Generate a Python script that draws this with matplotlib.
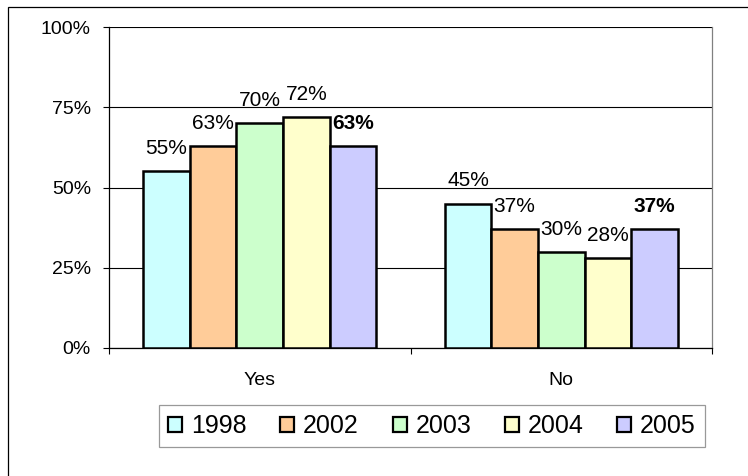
import numpy as np
import matplotlib
matplotlib.use("Agg")
import matplotlib.pyplot as plt
from matplotlib.patches import Rectangle

plt.rcParams['font.family'] = ['Liberation Sans', 'DejaVu Sans']

categories = ["Yes", "No"]
years = ["1998", "2002", "2003", "2004", "2005"]
values = [
    [55, 45],
    [63, 37],
    [70, 30],
    [72, 28],
    [63, 37],
]
colors = ["#CCFFFF", "#FFCC99", "#CCFFCC", "#FFFFCC", "#CCCCFF"]
yticks = [0, 25, 50, 75, 100]

fig = plt.figure(figsize=(7.48, 4.76), dpi=100)
ax = fig.add_axes([109 / 748, 1 - 348 / 476, 603 / 748, 321 / 476])

# outer chart frame (runs off the right/bottom edge)
fig.patches.append(Rectangle((8 / 748, -0.05), 1.1, 1 - 7 / 476 + 0.05,
                             transform=fig.transFigure, fill=False,
                             edgecolor="black", linewidth=0.9, zorder=0))

x = np.arange(len(categories))
w = 0.1546
for i, (yr, vals, c) in enumerate(zip(years, values, colors)):
    xs = x + (i - 2) * w
    ax.bar(xs, vals, width=w, color=c, edgecolor="black", linewidth=1.8,
           label=yr, zorder=3)
    for xi, v in zip(xs, vals):
        ax.annotate(f"{v}%", (xi, v), xytext=(0, 9.5), textcoords="offset points",
                    ha="center", va="bottom", fontsize=15,
                    fontweight="bold" if yr == "2005" else "normal")

ax.set_xlim(-0.5, 1.5)
ax.set_ylim(0, 100)
ax.set_yticks(yticks)
ax.set_yticklabels([f"{t}%" for t in yticks], fontsize=14)
ax.tick_params(axis="y", direction="out", length=4.5, width=0.8, pad=8.5)
ax.grid(axis="y", color="black", linewidth=0.8, zorder=1)

ax.set_xticks([-0.5, 0.5, 1.5])
ax.set_xticklabels([])
ax.set_xticks(x, minor=True)
ax.set_xticklabels(categories, minor=True, fontsize=14)
ax.tick_params(axis="x", which="major", direction="out", length=4.5, width=0.8)
ax.tick_params(axis="x", which="minor", length=0, pad=17)

ax.spines["top"].set_visible(False)
ax.spines["right"].set_color("#808080")
for s in ["left", "bottom", "right"]:
    ax.spines[s].set_linewidth(0.9)

leg = fig.legend(loc="center", bbox_to_anchor=(432 / 748, 1 - 426 / 476), ncol=5,
                 fontsize=18, handlelength=0.56, handleheight=0.56,
                 handletextpad=0.35, columnspacing=1.35, borderpad=0.35,
                 frameon=True, fancybox=False)
leg.get_frame().set_edgecolor("#808080")
leg.get_frame().set_linewidth(0.9)
for h in leg.legend_handles:
    h.set_linewidth(1.6)

fig.savefig("out.png", dpi=100)
